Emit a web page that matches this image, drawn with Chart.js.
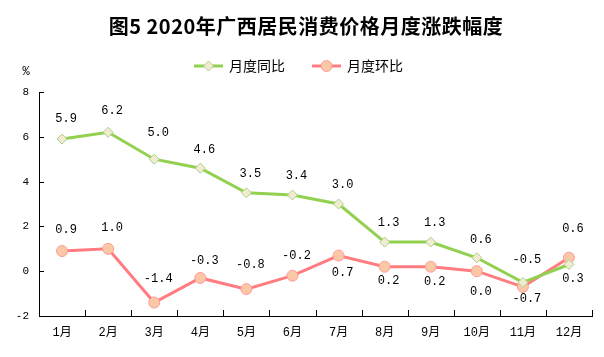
<!DOCTYPE html>
<html><head><meta charset="utf-8">
<script src="https://cdn.jsdelivr.net/npm/chart.js@4/dist/chart.umd.min.js"></script>
<style>html,body{margin:0;padding:0;background:#fff}#wrap{width:604px;height:357px;position:relative}</style>
</head><body><div id="wrap"><canvas id="c" width="604" height="357"></canvas></div>
<script>
const titleText = '图5 2020年广西居民消费价格月度涨跌幅度';
const categories = ['1月','2月','3月','4月','5月','6月','7月','8月','9月','10月','11月','12月'];
const seriesNames = ['月度同比','月度环比'];
const yoyValues = [5.9, 6.2, 5.0, 4.6, 3.5, 3.4, 3.0, 1.3, 1.3, 0.6, -0.5, 0.3];
const momValues = [0.9, 1.0, -1.4, -0.3, -0.8, -0.2, 0.7, 0.2, 0.2, 0.0, -0.7, 0.6];
const yTicks = [-2, 0, 2, 4, 6, 8];
// label placement: positive = above point, negative = below (pixels)
const yoyLabelOffset = [20, 21, 26, 18, 19, 19, 19, 19, 19, 18, 23, -14];
const momLabelOffset = [21, 21, 24, 17, 24, 20, -17, -14, -15, -21, -12, 29];

const GREEN = '#92D050', RED = '#FF7C80';

const tickPlugin = {
  id: 'innerTicks',
  afterDraw(chart) {
    const ctx = chart.ctx, x = chart.scales.x, y = chart.scales.y, ca = chart.chartArea;
    ctx.save();
    ctx.strokeStyle = '#000'; ctx.lineWidth = 1;
    ctx.beginPath();
    const n = categories.length;
    for (let i = 0; i <= n; i++) {
      let px;
      if (i === 0) px = ca.left; else if (i === n) px = ca.right;
      else px = (x.getPixelForValue(i - 1) + x.getPixelForValue(i)) / 2;
      px = Math.round(px) + 0.5;
      ctx.moveTo(px, ca.bottom); ctx.lineTo(px, ca.bottom - 6);
    }
    yTicks.forEach(v => {
      const py = Math.round(y.getPixelForValue(v)) + 0.5;
      ctx.moveTo(ca.left, py); ctx.lineTo(ca.left + 5, py);
    });
    ctx.stroke();
    ctx.restore();
  }
};

const labelPlugin = {
  id: 'labels',
  afterDatasetsDraw(chart) {
    const ctx = chart.ctx;
    ctx.save();
    ctx.font = '12px "Liberation Mono", "DejaVu Sans Mono", monospace';
    ctx.fillStyle = '#000';
    ctx.textAlign = 'center';
    ctx.textBaseline = 'middle';
    const offs = [yoyLabelOffset, momLabelOffset];
    chart.data.datasets.forEach((ds, di) => {
      const meta = chart.getDatasetMeta(di);
      meta.data.forEach((pt, i) => {
        const v = ds.data[i];
        ctx.fillText(v.toFixed(1), pt.x + 4, pt.y - offs[di][i]);
      });
    });
    ctx.font = '12px "Liberation Mono", monospace';
    ctx.fillText('%', 26, 72);
    // title
    ctx.font = 'bold 20px "Noto Sans CJK SC"';
    try { ctx.letterSpacing = '0.5px'; } catch (e) {}
    ctx.fillText(titleText, 306, 26);
    try { ctx.letterSpacing = '0px'; } catch (e) {}
    // legend
    const items = [
      {x: 194, color: GREEN, name: seriesNames[0], shape: 'diamond'},
      {x: 312, color: RED, name: seriesNames[1], shape: 'circle'}
    ];
    const ly = 66;
    items.forEach(it => {
      ctx.strokeStyle = it.color; ctx.lineWidth = 3;
      ctx.beginPath(); ctx.moveTo(it.x, ly); ctx.lineTo(it.x + 29, ly); ctx.stroke();
      const cx = it.x + 14.5;
      ctx.lineWidth = 1;
      if (it.shape === 'diamond') {
        ctx.fillStyle = '#F2EBCF'; ctx.strokeStyle = '#A9D18E';
        ctx.beginPath(); ctx.moveTo(cx, ly-5); ctx.lineTo(cx+5, ly); ctx.lineTo(cx, ly+5); ctx.lineTo(cx-5, ly); ctx.closePath();
        ctx.fill(); ctx.stroke();
      } else {
        ctx.fillStyle = '#FBC8A6'; ctx.strokeStyle = '#FF9A9A';
        ctx.beginPath(); ctx.arc(cx, ly, 5.5, 0, Math.PI*2); ctx.fill(); ctx.stroke();
      }
      ctx.fillStyle = '#000';
      ctx.textAlign = 'left';
      ctx.font = '14px "Noto Sans CJK SC"';
      ctx.fillText(it.name, it.x + 35, ly);
    });
    ctx.restore();
  }
};

new Chart(document.getElementById('c'), {
  type: 'line',
  data: {
    labels: categories,
    datasets: [
      { label: seriesNames[0], data: yoyValues, borderColor: GREEN, borderWidth: 3,
        pointStyle: 'rectRot', pointRadius: 5, pointBackgroundColor: '#F2EBCF', pointBorderColor: '#A9D18E', pointBorderWidth: 1 },
      { label: seriesNames[1], data: momValues, borderColor: RED, borderWidth: 3,
        pointStyle: 'circle', pointRadius: 5.5, pointBackgroundColor: '#FBC8A6', pointBorderColor: '#FF9A9A', pointBorderWidth: 1 }
    ]
  },
  options: {
    responsive: false, animation: false,
    layout: { padding: { top: 92, right: 12, left: 0, bottom: 0 } },
    plugins: { legend: { display: false }, tooltip: { enabled: false }, title: { display: false } },
    scales: {
      x: {
        offset: true,
        afterFit: s => { s.height = 41; },
        grid: { display: false, drawTicks: false },
        border: { display: true, color: '#000', width: 1 },
        ticks: { color: '#000', font: { size: 12, family: '"Liberation Mono", "Noto Sans CJK SC"' }, padding: 10, maxRotation: 0 }
      },
      y: {
        min: -2, max: 8,
        afterFit: s => { s.width = 39; },
        afterBuildTicks: s => { s.ticks = yTicks.map(v => ({ value: v })); },
        grid: { display: false, drawTicks: false },
        border: { display: true, color: '#000', width: 1 },
        ticks: { color: '#000', font: { size: 11, family: '"Liberation Mono", monospace' }, padding: 10 }
      }
    }
  },
  plugins: [labelPlugin, tickPlugin]
});
</script></body></html>
